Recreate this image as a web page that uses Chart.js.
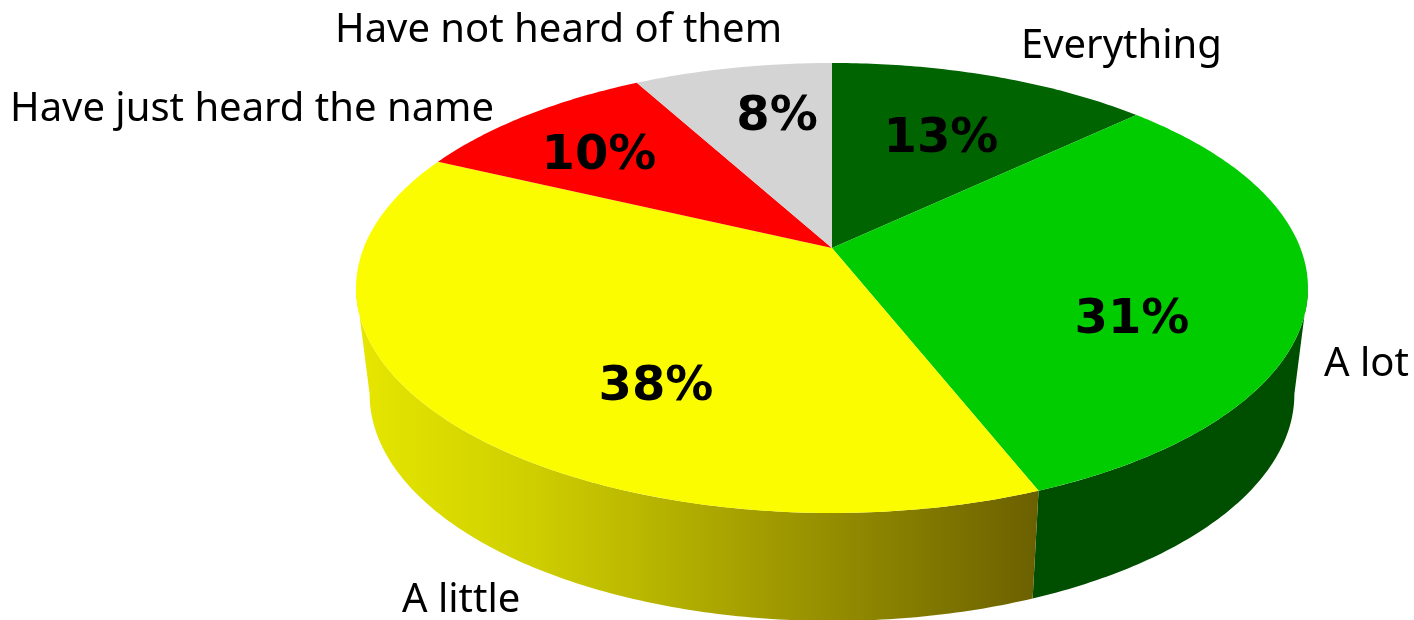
<!DOCTYPE html>
<html>
<head>
<meta charset="utf-8">
<title>Pie</title>
<script src="https://cdn.jsdelivr.net/npm/chart.js@4/dist/chart.umd.min.js"></script>
<style>
  html, body { margin: 0; padding: 0; background: #fff; overflow: hidden; }
  canvas { display: block; }
</style>
</head>
<body>
<canvas id="pie" width="1414" height="620"></canvas>
<script>
// Data
var categories = ['Everything', 'A lot', 'A little', 'Have just heard the name', 'Have not heard of them'];
var shares = [13, 31, 38, 10, 8];
var sliceColors = ['#006400', '#00cc00', '#fcfc00', '#ff0000', '#d4d4d4'];
var wallColors = ['#004f00', '#004f00', 'gradient', '#b00000', '#999999'];

// Where the texts sit (x, baseline y)
var categorySpots = [[1021, 58], [1324, 376], [402, 612], [10, 121], [335, 42]];
var shareSpots = [[941, 152], [1132, 333], [656, 400], [599, 169], [777, 130]];

// Tilted disc: a circle seen in perspective, top face and bottom face
var tilt = 0.1777;
var topFace = { cx: 832, cy: 248, rx: 468.4, ry: 217.9 };
var bottomFace = { cx: 832, cy: 354, rx: 455, ry: 219.5 };

// the wall only shows between the two points where the disc turns away
var wallStart = Math.asin(tilt);
var wallEnd = Math.PI - wallStart;

function project(face, angle) {
  var u = Math.cos(angle), v = Math.sin(angle);
  var w = 1 - tilt * v;
  return [face.cx + face.rx * u / w, face.cy + face.ry * v / w];
}

function traceArc(ctx, face, from, to, first) {
  var steps = Math.max(8, Math.ceil(Math.abs(to - from) * 80));
  for (var i = 0; i <= steps; i++) {
    var p = project(face, from + (to - from) * i / steps);
    if (i === 0 && first) ctx.moveTo(p[0], p[1]);
    else ctx.lineTo(p[0], p[1]);
  }
}

var tiltedPie = {
  id: 'tiltedPie',
  beforeDatasetDraw: function (chart, args) {
    var ctx = chart.ctx;
    var arcs = args.meta.data;
    ctx.save();

    // side wall first, the top face covers its upper edge
    arcs.forEach(function (arc, i) {
      var from = Math.max(arc.startAngle, wallStart);
      var to = Math.min(arc.endAngle, wallEnd);
      if (to <= from) return;
      var fill = wallColors[i];
      if (fill === 'gradient') {
        fill = ctx.createLinearGradient(360, 0, 1038, 0);
        fill.addColorStop(0, '#e6e600');
        fill.addColorStop(0.25, '#cfcf00');
        fill.addColorStop(0.55, '#a8a300');
        fill.addColorStop(1, '#6b6000');
      }
      ctx.beginPath();
      traceArc(ctx, topFace, from, to, true);
      traceArc(ctx, bottomFace, to, from, false);
      ctx.closePath();
      ctx.fillStyle = fill;
      ctx.fill();
    });

    // top face
    arcs.forEach(function (arc, i) {
      ctx.beginPath();
      ctx.moveTo(topFace.cx, topFace.cy);
      traceArc(ctx, topFace, arc.startAngle, arc.endAngle, false);
      ctx.closePath();
      ctx.fillStyle = sliceColors[i];
      ctx.fill();
    });

    ctx.restore();
    return false;
  },
  afterDraw: function (chart) {
    var ctx = chart.ctx;
    ctx.save();
    ctx.fillStyle = '#000';
    ctx.textAlign = 'left';
    ctx.textBaseline = 'alphabetic';

    ctx.font = '40px "Noto Sans"';
    categories.forEach(function (name, i) {
      ctx.fillText(name, categorySpots[i][0], categorySpots[i][1]);
    });

    ctx.textAlign = 'center';
    ctx.font = 'bold 48px "DejaVu Sans"';
    shares.forEach(function (share, i) {
      ctx.fillText(share + '%', shareSpots[i][0], shareSpots[i][1]);
    });
    ctx.restore();
  }
};

new Chart(document.getElementById('pie').getContext('2d'), {
  type: 'pie',
  data: {
    labels: categories,
    datasets: [{ data: shares, backgroundColor: sliceColors, borderWidth: 0 }]
  },
  options: {
    responsive: false,
    animation: false,
    plugins: { legend: { display: false }, tooltip: { enabled: false } }
  },
  plugins: [tiltedPie]
});
</script>
</body>
</html>
